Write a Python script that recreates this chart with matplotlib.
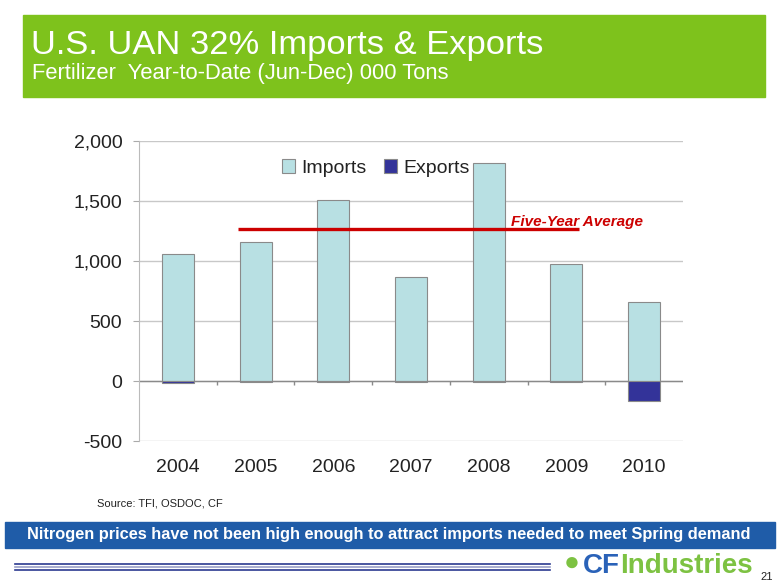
"""U.S. UAN 32% imports & exports slide chart."""
import matplotlib
matplotlib.use("Agg")
import matplotlib.pyplot as plt
from matplotlib.patches import Rectangle

plt.rcParams["font.family"] = ["Liberation Sans", "DejaVu Sans"]

# data (000 tons, Jun-Dec year-to-date)
years = ["2004", "2005", "2006", "2007", "2008", "2009", "2010"]
imports = [1058, 1158, 1508, 867, 1817, 975, 658]
exports = [-17, -12, -12, -12, -5, -12, -165]
five_year_avg = 1267
avg_span = (0.77, 5.16)

IMP_C = "#B8E0E3"
EXP_C = "#333399"
GREEN = "#7EC21C"
BLUE = "#1F5CA8"

fig = plt.figure(figsize=(7.8, 5.85), dpi=100)
W, H = 780, 585


def box(x0, y0, x1, y1):
    # pixel box (top-left origin) -> figure fraction rect
    return [x0 / W, 1 - y1 / H, (x1 - x0) / W, (y1 - y0) / H]


# header band
fig.patches.append(Rectangle((23 / W, 1 - 97 / H), 742 / W, 82 / H,
                             transform=fig.transFigure, color=GREEN, zorder=0))
fig.text(31 / W, 1 - 54 / H, "U.S. UAN 32% Imports & Exports", color="white",
         fontsize=24.8, va="baseline", ha="left")
fig.text(32 / W, 1 - 79 / H, "Fertilizer  Year-to-Date (Jun-Dec) 000 Tons",
         color="white", fontsize=15.8, va="baseline", ha="left")

# chart
ax = fig.add_axes(box(139, 141, 683, 441))
x = list(range(len(years)))
ax.bar(x, imports, width=0.41, color=IMP_C, edgecolor="#8A8A8A", lw=0.8,
       label="Imports", zorder=3)
ax.bar(x, exports, width=0.41, color=EXP_C, edgecolor="#8A8A8A", lw=0.8,
       label="Exports", zorder=3)
ax.set_xlim(-0.5, len(years) - 0.5)
ax.set_ylim(-500, 2000)
ax.set_yticks(range(-500, 2001, 500))
ax.set_yticklabels([f"{v:,}" for v in range(-500, 2001, 500)])
ax.set_xticks(x)
ax.set_xticklabels(years)
ax.tick_params(axis="x", length=0, pad=13, labelsize=14, colors="#222")
ax.tick_params(axis="y", length=4, color="#AAAAAA", pad=8, labelsize=14,
               labelcolor="#222")
ax.grid(axis="y", color="#C8C8C8", lw=1, zorder=0)
for s in ("top", "right", "bottom"):
    ax.spines[s].set_visible(False)
ax.spines["left"].set_color("#BBBBBB")
ax.axhline(0, color="#8A8A8A", lw=1, zorder=2)
ax.vlines([i + 0.5 for i in x[:-1]], 0, -35, color="#8A8A8A", lw=1, zorder=2)

ax.hlines(five_year_avg, *avg_span, color="#CC0000", lw=2.4, zorder=4)
ax.text(4.29, five_year_avg + 62, "Five-Year Average", color="#CC0000",
        fontsize=11, fontweight="bold", fontstyle="italic", va="center",
        ha="left", zorder=5)

ax.legend(loc="center", bbox_to_anchor=(0.435, 0.91), ncol=2, frameon=False,
          fontsize=14, handlelength=0.7, handleheight=0.7, handletextpad=0.3,
          columnspacing=0.9, labelcolor="#222")

fig.text(97 / W, 1 - 503 / H, "Source: TFI, OSDOC, CF", fontsize=8,
         va="center", ha="left", color="#222")

# bottom banner
fig.patches.append(Rectangle((5 / W, 1 - 548 / H), 770 / W, 26 / H,
                             transform=fig.transFigure, color=BLUE, zorder=0))
fig.text(389 / W, 1 - 535 / H,
         "Nitrogen prices have not been high enough to attract imports needed to meet Spring demand",
         color="white", fontsize=11.8, fontweight="bold", va="center", ha="center")

# footer rules + logo
for yy, c in ((564, "#2B3990"), (567, "#9AA0C8"), (570, "#2B3990")):
    fig.add_artist(plt.Line2D([15 / W, 550 / W], [1 - yy / H] * 2,
                              color=c, lw=1.2, transform=fig.transFigure))
fig.text(572 / W, 1 - 563 / H, "\u25cf", color="#7DC242", fontsize=19,
         va="center", ha="center")
cf = fig.text(583 / W, 1 - 573 / H, "CF", color="#2A62B8", fontsize=20,
              fontweight="bold", va="baseline", ha="left")
ax.annotate("Industries", xy=(1, 0), xycoords=cf, color="#7DC242",
            fontsize=20, fontweight="bold", va="bottom", ha="left",
            annotation_clip=False)
fig.text(773 / W, 1 - 577 / H, "21", fontsize=8, va="center", ha="right",
         color="#222")

fig.savefig("out.png", dpi=100)
